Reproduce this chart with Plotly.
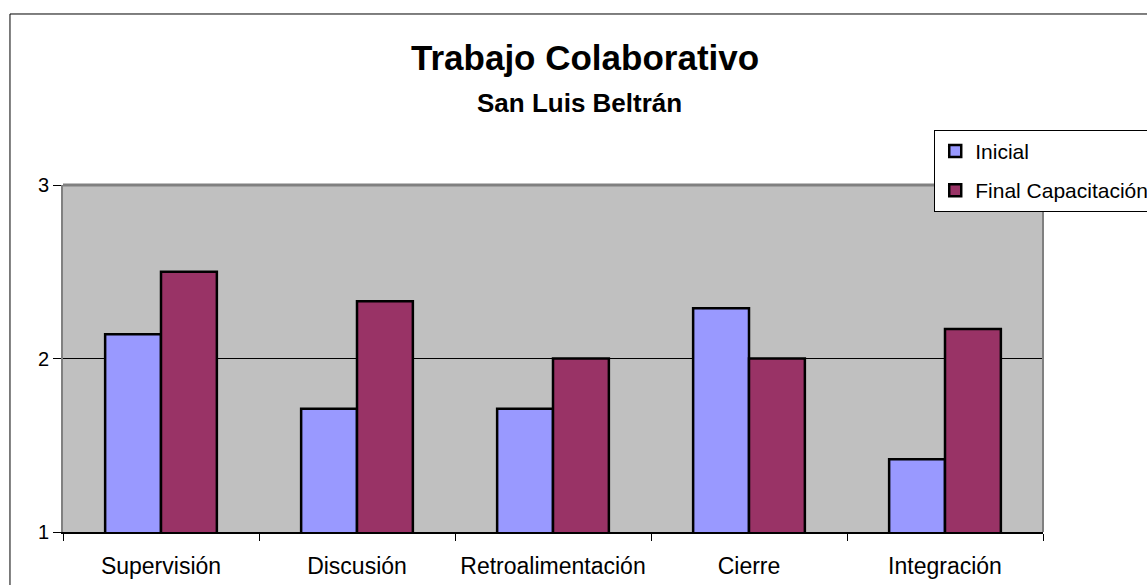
import plotly.graph_objects as go

categories = ["Supervisión", "Discusión", "Retroalimentación", "Cierre", "Integración"]
inicial = [2.14, 1.71, 1.71, 2.29, 1.42]
final_cap = [2.50, 2.33, 2.00, 2.00, 2.17]
series_names = ["Inicial", "Final Capacitación"]
y_ticks = [1, 2, 3]

FONT = "Liberation Sans, Arial, sans-serif"

fig = go.Figure()
fig.add_trace(go.Bar(x=categories, y=inicial, name=series_names[0], legendgroup="a",
                     marker=dict(color="#9999FF", line=dict(color="black", width=2.5))))
fig.add_trace(go.Bar(x=categories, y=final_cap, name=series_names[1], legendgroup="b",
                     marker=dict(color="#993366", line=dict(color="black", width=2.5))))

fig.update_layout(
    width=1147, height=585,
    margin=dict(l=63, r=104, t=185, b=53, autoexpand=False),
    paper_bgcolor="white",
    plot_bgcolor="#C0C0C0",
    barmode="group",
    bargap=0.43,
    bargroupgap=0,
    font=dict(family=FONT, color="black"),
    showlegend=True,
    legend=dict(x=0.889, y=1.159, xanchor="left", yanchor="top",
                bgcolor="white", bordercolor="black", borderwidth=1,
                font=dict(size=21, family=FONT), tracegroupgap=9,
                itemwidth=30),
    xaxis=dict(showline=True, linecolor="black", linewidth=2,
               ticks="outside", tickson="boundaries", ticklen=7, tickcolor="black",
               tickfont=dict(size=23, family=FONT), ticklabelstandoff=12,
               showgrid=False, automargin=False),
    yaxis=dict(range=[1, 3], tickvals=y_ticks, showline=True, linecolor="#808080", linewidth=2,
               ticks="outside", ticklen=8, tickcolor="black",
               tickfont=dict(size=20, family=FONT), automargin=False,
               showgrid=True, gridcolor="black", gridwidth=1, zeroline=False),
    annotations=[
        dict(text="<b>Trabajo Colaborativo</b>", x=0.533, y=1.366, xref="paper", yref="paper",
             showarrow=False, font=dict(size=35, family=FONT), xanchor="center", yanchor="middle"),
        dict(text="<b>San Luis Beltrán</b>", x=0.527, y=1.236, xref="paper", yref="paper",
             showarrow=False, font=dict(size=26, family=FONT), xanchor="center", yanchor="middle"),
    ],
    shapes=[
        dict(type="rect", xref="paper", yref="paper", x0=-0.0541, y0=-0.3, x1=1.2, y1=1.4928,
             line=dict(color="black", width=1), fillcolor="rgba(0,0,0,0)", layer="below"),
        dict(type="line", xref="paper", yref="paper", x0=0, x1=1, y0=1, y1=1,
             line=dict(color="#808080", width=3)),
        dict(type="line", xref="paper", yref="paper", x0=1, x1=1, y0=0, y1=1,
             line=dict(color="#808080", width=2)),
    ],
)

fig.write_html("out.html", config={"displayModeBar": False},
               post_script="document.body.style.margin='0';")
